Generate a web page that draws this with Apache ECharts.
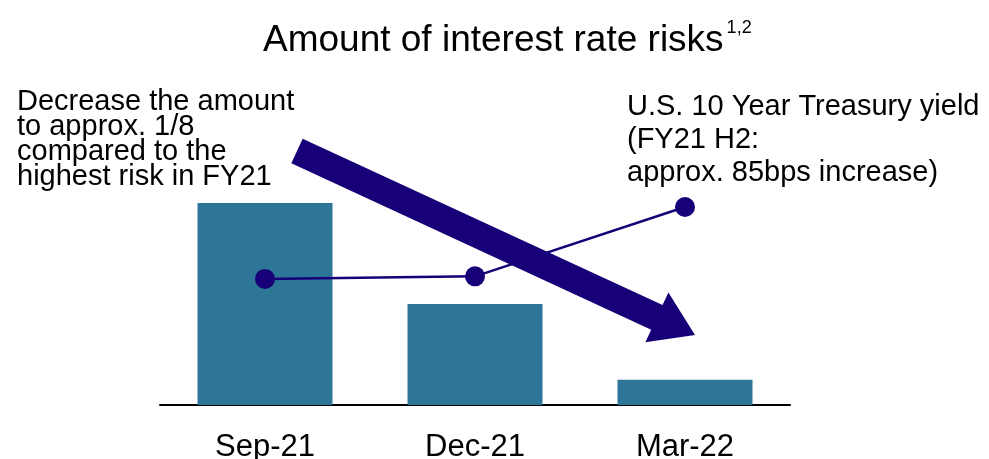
<!DOCTYPE html>
<html>
<head>
<meta charset="utf-8">
<script src="https://cdn.jsdelivr.net/npm/echarts@6/dist/echarts.min.js"></script>
<style>
  html, body { margin: 0; padding: 0; background: #fff; }
  #chart { width: 989px; height: 459px; }
</style>
</head>
<body>
<div id="chart"></div>
<script>
// data
const categories = ['Sep-21', 'Dec-21', 'Mar-22']
const riskAmount = [8, 4, 1]            // relative amount of interest rate risk
const treasuryYield = [1.49, 1.52, 2.34] // US 10Y yield (%)

const FONT = 'Liberation Sans, Arial, sans-serif'
const NAVY = '#170078'

// build arrow polygon from start, tip, widths
const arrowPoints = (start, tip, shaftW, headW, headL) => {
  const dx = tip[0] - start[0], dy = tip[1] - start[1]
  const len = Math.sqrt(dx * dx + dy * dy)
  const ux = dx / len, uy = dy / len
  const nx = -uy, ny = ux
  const bx = tip[0] - ux * headL, by = tip[1] - uy * headL
  const p = (x, y, k) => [x + nx * k, y + ny * k]
  return [
    p(start[0], start[1], -shaftW / 2),
    p(bx, by, -shaftW / 2),
    p(bx, by, -headW / 2),
    tip,
    p(bx, by, headW / 2),
    p(bx, by, shaftW / 2),
    p(start[0], start[1], shaftW / 2)
  ]
}

const chart = echarts.init(document.getElementById('chart'))

const option = {
  animation: false,
  title: {
    text: '{a|Amount of interest rate risks}{b|1,2}',
    left: 258,
    top: 14,
    textStyle: {
      rich: {
        a: { fontFamily: FONT, fontSize: 37, fontWeight: 'normal', color: '#000', lineHeight: 44 },
        b: { fontFamily: FONT, fontSize: 18, fontWeight: 'normal', color: '#000', verticalAlign: 'top', lineHeight: 40, padding: [0, 0, 0, 3] }
      }
    }
  },
  grid: { left: 160, right: 199, top: 102, bottom: 54, outerBoundsMode: 'none' },
  xAxis: {
    type: 'category',
    data: categories,
    axisLine: { lineStyle: { color: '#000', width: 2 } },
    axisTick: { show: false },
    axisLabel: { color: '#000', fontFamily: FONT, fontSize: 31, margin: 27 }
  },
  yAxis: [
    { type: 'value', min: 0, max: 12, show: false, splitLine: { show: false } },
    { type: 'value', min: 0, max: 3.58, show: false, splitLine: { show: false } }
  ],
  series: [
    {
      name: 'Amount of interest rate risks',
      type: 'bar',
      data: riskAmount,
      barWidth: 135,
      itemStyle: { color: '#2E7698' },
      z: 1
    },
    {
      name: 'U.S. 10 Year Treasury yield',
      type: 'line',
      yAxisIndex: 1,
      data: treasuryYield,
      symbol: 'circle',
      symbolSize: 20,
      lineStyle: { color: NAVY, width: 2.5 },
      itemStyle: { color: NAVY },
      z: 3
    }
  ],
  graphic: [
    {
      type: 'polygon',
      z: 2,
      shape: { points: arrowPoints([297, 151], [695, 335], 27, 55, 42) },
      style: { fill: NAVY }
    },
    {
      type: 'text',
      left: 17,
      top: 87,
      style: {
        text: 'Decrease the amount\nto approx. 1/8\ncompared to the\nhighest risk in FY21',
        fontFamily: FONT,
        fontSize: 29,
        lineHeight: 25.3,
        fill: '#000'
      }
    },
    {
      type: 'text',
      left: 627,
      top: 90,
      style: {
        text: 'U.S. 10 Year Treasury yield\n(FY21 H2:\napprox. 85bps increase)',
        fontFamily: FONT,
        fontSize: 29,
        lineHeight: 33,
        fill: '#000'
      }
    }
  ]
}

chart.setOption(option)
</script>
</body>
</html>
